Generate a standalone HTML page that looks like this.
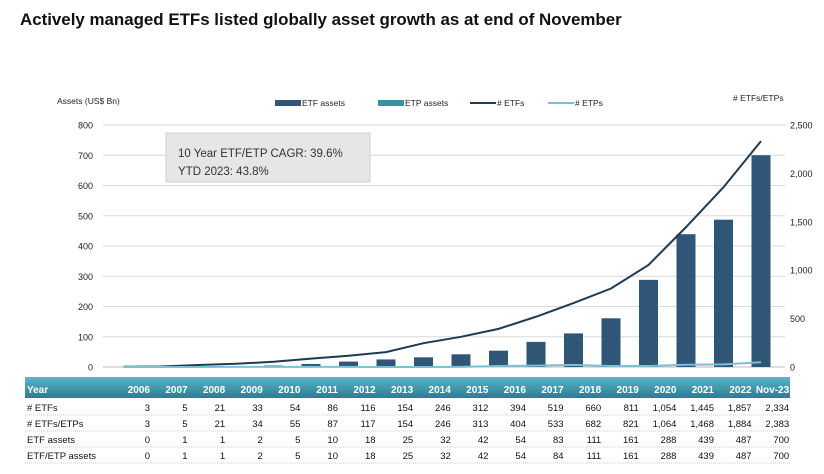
<!DOCTYPE html>
<html><head><meta charset="utf-8"><style>
body{margin:0;background:#fff;width:824px;height:474px;overflow:hidden;font-family:"Liberation Sans",sans-serif}
#t{position:absolute;left:20px;top:10px;font-size:16.9px;font-weight:bold;color:#111}
svg{position:absolute;left:0;top:0}
</style></head><body>
<div id="t">Actively managed ETFs listed globally asset growth as at end of November</div>
<svg id="s" width="824" height="474"></svg>
<script>
const categories=["2006","2007","2008","2009","2010","2011","2012","2013","2014","2015","2016","2017","2018","2019","2020","2021","2022","Nov-23"];
const etfCount=[3,5,21,33,54,86,116,154,246,312,394,519,660,811,1054,1445,1857,2334];
const etfEtpCount=[3,5,21,34,55,87,117,154,246,313,404,533,682,821,1064,1468,1884,2383];
const etfAssets=[0,1,1,2,5,10,18,25,32,42,54,83,111,161,288,439,487,700];
const etfEtpAssets=[0,1,1,2,5,10,18,25,32,42,54,84,111,161,288,439,487,700];
const leftTicks=[0,100,200,300,400,500,600,700,800];
const rightTicks=[0,500,1000,1500,2000,2500];
const etpCount=etfEtpCount.map((v,i)=>v-etfCount[i]);
const NS="http://www.w3.org/2000/svg",s=document.getElementById('s');
function el(t,a,txt){const e=document.createElementNS(NS,t);for(const k in a)e.setAttribute(k,a[k]);if(txt!=null)e.textContent=txt;s.appendChild(e);return e;}
const y0=367,yTop=125;
const yL=v=>y0-(v/800)*(y0-yTop);
const yR=v=>y0-(v/2500)*(y0-yTop);
const xC=i=>123.5+i*37.5;
const F='"Liberation Sans",sans-serif';
leftTicks.forEach(v=>{
 const g=el('line',{x1:103,x2:785,y1:yL(v),y2:yL(v),stroke:v?'#d9d9d9':'#bbb','stroke-width':1});
 
 const t=el('text',{x:93,y:yL(v)+3.5,'text-anchor':'end','font-size':9,fill:'#222','font-family':F},v);
 
});
rightTicks.forEach(v=>{
 const t=el('text',{x:790,y:yR(v)+3.5,'font-size':9,fill:'#222','font-family':F},v.toLocaleString('en-US'));
 
});
let a=el('text',{x:57,y:104,'font-size':8.5,fill:'#222','font-family':F},'Assets (US$ Bn)');
a=el('text',{x:733,y:101,'font-size':8.5,fill:'#222','font-family':F},'# ETFs/ETPs');
[[275,'rect','#2f5577','ETF assets'],[378,'rect','#3a8fa3','ETP assets'],[470,'line','#1e3a55','# ETFs'],[548,'line','#7cc0d4','# ETPs']].forEach(([x,k,c,l])=>{
 let m=k=='rect'?el('rect',{x:x,y:100,width:26,height:6,fill:c}):el('line',{x1:x,x2:x+26,y1:103,y2:103,stroke:c,'stroke-width':2});
 
 const t=el('text',{x:x+27,y:106,'font-size':8.5,fill:'#222','font-family':F},l);
 
});
etfAssets.forEach((v,i)=>{
 const b=el('rect',{x:xC(i)-9.5,y:yL(v),width:19,height:y0-yL(v),fill:'#2f5577'});
 
});
let p=el('polyline',{points:etfCount.map((v,i)=>xC(i)+','+yR(v)).join(' '),fill:'none',stroke:'#1e3a55','stroke-width':2});

p=el('polyline',{points:etpCount.map((v,i)=>xC(i)+','+yR(v)).join(' '),fill:'none',stroke:'#7cc0d4','stroke-width':2});

let bx=el('rect',{x:166,y:133,width:204,height:49,fill:'#e6e6e6',stroke:'#cfcfcf'});
a=el('text',{x:178,y:157,'font-size':11.5,fill:'#333','font-family':F},'10 Year ETF/ETP CAGR: 39.6%');
a=el('text',{x:178,y:175,'font-size':11.5,fill:'#333','font-family':F},'YTD 2023: 43.8%');
const defs=el('defs',{});defs.innerHTML='<linearGradient id="g" x1="0" y1="0" x2="0" y2="1"><stop offset="0" stop-color="#5bb5c9"/><stop offset="1" stop-color="#2a7d93"/></linearGradient>';
let h=el('rect',{x:25,y:377,width:765,height:21,fill:'url(#g)'});
const colR=i=>150+i*37.6;
a=el('text',{x:27,y:393,'font-size':10,'font-weight':'bold',fill:'#fff','font-family':F},'Year');
categories.forEach((c,i)=>{const t=el('text',{x:colR(i),y:393,'text-anchor':'end','font-size':10,'font-weight':'bold',fill:'#fff','font-family':F},c);});
[['# ETFs',etfCount],['# ETFs/ETPs',etfEtpCount],['ETF assets',etfAssets],['ETF/ETP assets',etfEtpAssets]].forEach(([l,arr],r)=>{
 const y=411+r*16;
 let t=el('text',{x:27,y:y,'font-size':9.5,fill:'#111','font-family':F},l);
 arr.forEach((v,i)=>{const c=el('text',{x:colR(i),y:y,'text-anchor':'end','font-size':9.5,fill:'#111','font-family':F},v.toLocaleString('en-US'));});
 const ln=el('line',{x1:25,x2:790,y1:y+4,y2:y+4,stroke:'#ccc','stroke-dasharray':'1,1'});
});
</script>
</body></html>
